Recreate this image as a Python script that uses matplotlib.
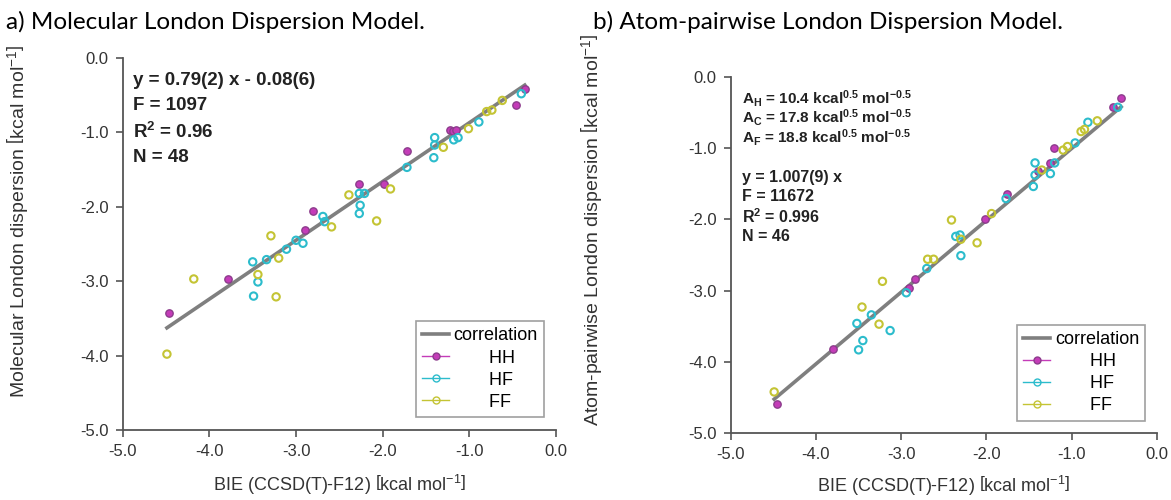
import numpy as np
import matplotlib
matplotlib.use("Agg")
import matplotlib.pyplot as plt
from matplotlib.lines import Line2D

plt.rcParams['font.family'] = ['Liberation Sans', 'DejaVu Sans']
plt.rcParams['mathtext.fontset'] = 'custom'
plt.rcParams['mathtext.rm'] = 'Liberation Sans'
plt.rcParams['mathtext.bf'] = 'Liberation Sans:bold'
plt.rcParams['mathtext.it'] = 'Liberation Sans:italic'

# ---- panel a: molecular model (BIE, model dispersion) ----
a_hh_x = [-4.47, -3.78, -2.90, -2.80, -2.27, -1.99, -1.72, -1.22, -1.19, -1.15, -0.46, -0.36]
a_hh_y = [-3.43, -2.97, -2.31, -2.05, -1.69, -1.69, -1.25, -0.97, -0.98, -0.97, -0.63, -0.41]
a_hf_x = [-3.50, -3.34, -3.11, -3.44, -3.49, -2.92, -3.00, -2.69, -2.67, -2.27, -2.21, -2.26,
          -2.27, -1.72, -1.40, -1.40, -1.41, -1.18, -1.13, -0.89, -0.40]
a_hf_y = [-2.74, -2.71, -2.57, -3.01, -3.20, -2.49, -2.45, -2.13, -2.20, -1.82, -1.82, -1.98,
          -2.09, -1.47, -1.07, -1.17, -1.34, -1.10, -1.07, -0.86, -0.48]
a_ff_x = [-4.49, -4.18, -3.44, -3.29, -3.20, -3.23, -2.59, -2.39, -2.07, -1.91, -1.30, -1.01,
          -0.80, -0.74, -0.62]
a_ff_y = [-3.98, -2.97, -2.91, -2.39, -2.69, -3.21, -2.27, -1.84, -2.19, -1.76, -1.20, -0.95,
          -0.72, -0.70, -0.57]
a_slope, a_icept = 0.79, -0.08
a_stats = ["y = 0.79(2) x - 0.08(6)", "F = 1097", r"R$^\mathbf{2}$ = 0.96", "N = 48"]

# ---- panel b: atom-pairwise model ----
b_hh_x = [-4.46, -3.80, -2.91, -2.84, -2.02, -1.76, -1.40, -1.26, -1.21, -0.51, -0.42]
b_hh_y = [-4.59, -3.82, -2.96, -2.84, -1.99, -1.64, -1.33, -1.21, -1.00, -0.43, -0.30]
b_hf_x = [-3.52, -3.35, -3.13, -3.45, -3.50, -2.94, -2.70, -2.30, -2.31, -2.36, -1.77, -1.45,
          -1.43, -1.43, -1.25, -1.20, -0.96, -0.81, -0.46]
b_hf_y = [-3.46, -3.34, -3.56, -3.70, -3.83, -3.03, -2.69, -2.51, -2.22, -2.24, -1.71, -1.54,
          -1.38, -1.21, -1.36, -1.21, -0.93, -0.64, -0.43]
b_ff_x = [-4.49, -3.46, -3.22, -3.26, -2.69, -2.62, -2.41, -2.11, -2.30, -1.94, -1.35, -1.10,
          -1.05, -0.89, -0.85, -0.70]
b_ff_y = [-4.42, -3.23, -2.87, -3.47, -2.56, -2.56, -2.01, -2.33, -2.28, -1.92, -1.31, -1.03,
          -0.98, -0.77, -0.74, -0.62]
b_slope, b_icept = 1.007, 0.0
b_params = [r"A$_\mathbf{H}$ = 10.4 kcal$^\mathbf{0.5}$ mol$^\mathbf{-0.5}$",
            r"A$_\mathbf{C}$ = 17.8 kcal$^\mathbf{0.5}$ mol$^\mathbf{-0.5}$",
            r"A$_\mathbf{F}$ = 18.8 kcal$^\mathbf{0.5}$ mol$^\mathbf{-0.5}$"]
b_stats = ["y = 1.007(9) x", "F = 11672", r"R$^\mathbf{2}$ = 0.996", "N = 46"]

ticks = [-5.0, -4.0, -3.0, -2.0, -1.0, 0.0]
unit = r"$\left[\mathrm{kcal\ mol^{-1}}\right]$"

c_hh, c_hh_edge = '#c43cb8', '#8c3c8c'
c_hf = '#2cbccc'
c_ff = '#c4c434'
c_line = '#7f7f7f'
axis_col = '#555555'


def style(ax):
    ax.set_xlim(-5, 0)
    ax.set_ylim(-5, 0)
    ax.set_xticks(ticks)
    ax.set_yticks(ticks)
    ax.xaxis.set_major_formatter(matplotlib.ticker.FormatStrFormatter('%.1f'))
    ax.yaxis.set_major_formatter(matplotlib.ticker.FormatStrFormatter('%.1f'))
    for s in ['top', 'right']:
        ax.spines[s].set_visible(False)
    for s in ['left', 'bottom']:
        ax.spines[s].set_color(axis_col)
        ax.spines[s].set_linewidth(1.3)
    ax.tick_params(colors=axis_col, labelcolor='#333333', labelsize=12,
                   length=5, width=1.2, direction='out', pad=5)


def draw(ax, hh, hf, ff, slope, icept):
    allx = hh[0] + hf[0] + ff[0]
    xs = np.array([min(allx), max(allx)])
    ax.plot(xs, slope * xs + icept, color=c_line, lw=2.6, zorder=3)
    ax.scatter(hh[0], hh[1], s=28, facecolor=c_hh, edgecolor=c_hh_edge, lw=1.0,
               zorder=4, clip_on=False)
    ax.scatter(hf[0], hf[1], s=28, facecolor='none', edgecolor=c_hf, lw=1.5,
               zorder=4, clip_on=False)
    ax.scatter(ff[0], ff[1], s=28, facecolor='none', edgecolor=c_ff, lw=1.5,
               zorder=4, clip_on=False)
    handles = [
        Line2D([], [], color=c_line, lw=2.6),
        Line2D([], [], color=c_hh, lw=1, marker='o', ms=5, mfc=c_hh, mec=c_hh_edge),
        Line2D([], [], color=c_hf, lw=1, marker='o', ms=5, mfc='none', mec=c_hf),
        Line2D([], [], color=c_ff, lw=1, marker='o', ms=5, mfc='none', mec=c_ff),
    ]
    labels = ['correlation', '       HH', '       HF', '       FF']
    leg = ax.legend(handles, labels, loc='lower right', bbox_to_anchor=(0.973, 0.035),
                    fontsize=13, frameon=True, fancybox=False, borderpad=0.35,
                    handlelength=1.5, handletextpad=0.25, labelspacing=0.28,
                    borderaxespad=0)
    leg.get_frame().set_edgecolor('#888888')
    leg.get_frame().set_linewidth(1.2)


fig = plt.figure(figsize=(11.71, 5.0), dpi=100)

# panel a
ax1 = fig.add_axes([0.1048, 0.14, 0.370, 0.744])
style(ax1)
draw(ax1, (a_hh_x, a_hh_y), (a_hf_x, a_hf_y), (a_ff_x, a_ff_y), a_slope, a_icept)
for i, t in enumerate(a_stats):
    ax1.text(-4.88, -0.30 - 0.345 * i, t, fontsize=13.5, fontweight='bold',
             color='#222222', va='center', ha='left')
ax1.set_xlabel("BIE (CCSD(T)-F12) " + unit, fontsize=13, color='#333333')
ax1.set_ylabel("Molecular London dispersion " + unit, fontsize=14, color='#333333')
ax1.xaxis.set_label_coords(0.5, -0.115)
ax1.yaxis.set_label_coords(-0.214, 0.56)

# panel b
ax2 = fig.add_axes([0.624, 0.1334, 0.364, 0.7134])
style(ax2)
draw(ax2, (b_hh_x, b_hh_y), (b_hf_x, b_hf_y), (b_ff_x, b_ff_y), b_slope, b_icept)
for i, t in enumerate(b_params):
    ax2.text(-4.87, -0.30 - 0.28 * i, t, fontsize=11, fontweight='bold',
             color='#222222', va='center', ha='left')
for i, t in enumerate(b_stats):
    ax2.text(-4.87, -1.41 - 0.275 * i, t, fontsize=11.5, fontweight='bold',
             color='#222222', va='center', ha='left')
ax2.set_xlabel("BIE (CCSD(T)-F12) " + unit, fontsize=13, color='#333333')
ax2.set_ylabel("Atom-pairwise London dispersion " + unit, fontsize=14, color='#333333')
ax2.xaxis.set_label_coords(0.5, -0.115)
ax2.yaxis.set_label_coords(-0.297, 0.57)

fig.text(0.005, 0.957, "a) Molecular London Dispersion Model.", fontsize=17.5,
         family=['Lato', 'DejaVu Sans'], va='center', ha='left')
fig.text(0.506, 0.957, "b) Atom-pairwise London Dispersion Model.", fontsize=17.5,
         family=['Lato', 'DejaVu Sans'], va='center', ha='left')

fig.savefig("out.png", dpi=100)
